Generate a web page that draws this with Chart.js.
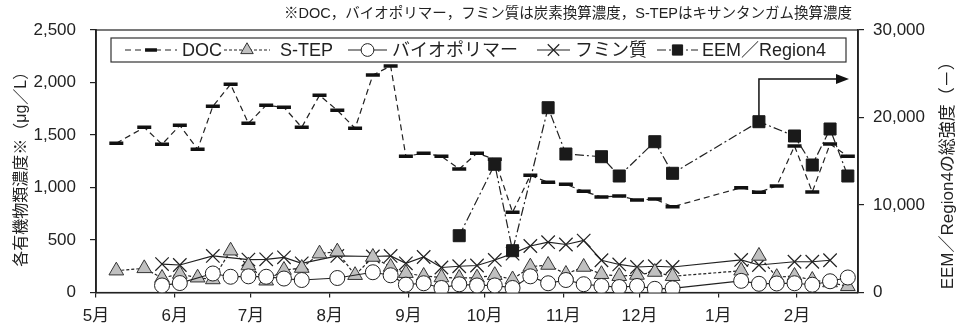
<!DOCTYPE html>
<html>
<head>
<meta charset="utf-8">
<script src="https://cdn.jsdelivr.net/npm/chart.js@4/dist/chart.umd.min.js"></script>
<style>
  html, body { margin: 0; padding: 0; background: #fff; }
  #wrap { width: 959px; height: 329px; }
</style>
</head>
<body>
<div id="wrap"><canvas id="c" width="959" height="329"></canvas></div>
<script>
// Sampling dates (season starts in May, ends the following February)
const sampleDates = ['5/9','5/20','5/27','6/3','6/10','6/16','6/23','6/30','7/7','7/14','7/21','7/28',
  '8/4','8/11','8/18','8/25','8/31','9/7','9/14','9/21','9/28','10/5','10/12','10/19','10/26',
  '11/2','11/9','11/16','11/23','11/30','12/7','12/14','1/10','1/17','1/24','1/31','2/7','2/14','2/21'];

// Concentrations (µg/L)
const docValues = [1421,1573,1411,1592,1364,1773,1983,1611,1783,1764,1573,1878,1735,1564,2071,2157,
  1297,1326,1297,1176,1326,1269,764,1116,1050,1030,964,910,919,881,890,817,998,954,1014,1395,957,1414,1297];
const stepValues = [208,230,138,176,141,124,398,257,112,214,233,370,389,165,338,243,
  184,157,143,138,141,165,124,246,262,176,243,174,155,167,195,155,207,348,146,157,119,95,59];
const biopolymerValues = [null,null,67,90,null,181,150,154,150,133,119,null,138,null,193,164,
  75,88,43,78,67,67,43,154,88,119,79,62,52,62,35,40,111,83,86,88,74,107,143];
const humicValues = [null,null,271,262,null,348,null,314,316,335,278,null,348,null,343,348,
  278,338,238,250,257,310,370,443,479,457,495,307,267,243,250,243,310,262,null,293,293,307,null];
// EEM Region4 total intensity (right axis)
const eemValues = [null,null,null,null,null,null,null,null,null,null,null,null,null,null,null,null,
  null,null,null,6491,null,14651,4777,null,21120,15829,null,15520,13314,null,17234,13623,
  null,19520,null,17886,14571,18686,13314];

// Month ticks on the date axis
const monthTicks = ['5/1','6/1','7/1','8/1','9/1','10/1','11/1','12/1','1/1','2/1'];
const monthLabels = ['5月','6月','7月','8月','9月','10月','11月','12月','1月','2月'];
const leftTicksLabel = '各有機物類濃度※（μg／L）';
const rightTicksLabel = 'EEM／Region4の総強度（－）';
const noteText = '※DOC，バイオポリマー，フミン質は炭素換算濃度，S-TEPはキサンタンガム換算濃度';
const seriesNames = ['DOC', 'S-TEP', 'バイオポリマー', 'フミン質', 'EEM／Region4'];

const FONT = "'Liberation Sans', Arial, 'Noto Sans CJK JP', sans-serif";
const INK = '#222';

// Day count from 1 May for an "M/D" date
const monthStartDay = {5:0, 6:31, 7:61, 8:92, 9:123, 10:153, 11:184, 12:214, 1:245, 2:276, 3:304};
function dayOf(md) {
  const [m, d] = md.split('/').map(Number);
  return monthStartDay[m] + d - 1;
}
function toPoints(values) {
  return sampleDates.map((d, i) => ({ x: dayOf(d), y: values[i] }));
}

const datasets = [
  { label: seriesNames[0], data: toPoints(docValues), yAxisID: 'y', order: 5,
    borderColor: INK, borderWidth: 1.2, borderDash: [6, 4],
    pointStyle: 'line', pointRadius: 7, pointBorderWidth: 3.5,
    pointBorderColor: '#111', pointBackgroundColor: '#111' },
  { label: seriesNames[1], data: toPoints(stepValues), yAxisID: 'y', order: 3,
    borderColor: INK, borderWidth: 1.2, borderDash: [3, 2],
    pointStyle: 'triangle', pointRadius: 8.5, pointBorderWidth: 1,
    pointBorderColor: '#333', pointBackgroundColor: '#c0c0c0' },
  { label: seriesNames[2], data: toPoints(biopolymerValues), yAxisID: 'y', order: 2,
    borderColor: INK, borderWidth: 1.2,
    pointStyle: 'circle', pointRadius: 7.5, pointBorderWidth: 1,
    pointBorderColor: INK, pointBackgroundColor: '#fff' },
  { label: seriesNames[3], data: toPoints(humicValues), yAxisID: 'y', order: 4,
    borderColor: INK, borderWidth: 1.2,
    pointStyle: 'crossRot', pointRadius: 9.5, pointBorderWidth: 1.2,
    pointBorderColor: INK, pointBackgroundColor: INK },
  { label: seriesNames[4], data: toPoints(eemValues), yAxisID: 'y2', order: 1,
    borderColor: INK, borderWidth: 1.2, borderDash: [9, 3, 2, 3],
    pointStyle: 'rect', pointRadius: 8.5, pointBorderWidth: 1,
    pointBorderColor: '#1a1a1a', pointBackgroundColor: '#1a1a1a' }
];
datasets.forEach(ds => { ds.spanGaps = true; ds.tension = 0; ds.fill = false; });

// Legend entries: symbol start/end and text start, measured from the box's left edge
const legendLayout = [
  { s0: 14, s1: 66, t: 71 },
  { s0: 113, s1: 159, t: 169 },
  { s0: 237, s1: 276, t: 281 },
  { s0: 426, s1: 459, t: 464 },
  { s0: 546, s1: 587, t: 591 }
];

const decorations = {
  id: 'decorations',
  beforeDatasetsDraw(chart) {
    const { ctx, chartArea: a } = chart;
    ctx.save();
    ctx.strokeStyle = INK;
    ctx.lineWidth = 1.2;
    ctx.strokeRect(a.left, a.top, a.right - a.left, a.bottom - a.top);
    ctx.restore();
  },
  afterDraw(chart) {
    const { ctx, chartArea: a, scales } = chart;
    ctx.save();

    // note above the plot
    ctx.fillStyle = INK;
    ctx.font = '14.5px ' + FONT;
    ctx.textAlign = 'right';
    ctx.textBaseline = 'middle';
    ctx.fillText(noteText, a.right - 6, 14);

    // axis titles, both reading bottom to top
    ctx.textAlign = 'center';
    const midY = (a.top + a.bottom) / 2;
    ctx.font = '16px ' + FONT;
    ctx.save();
    ctx.translate(22, midY + 4);
    ctx.rotate(-Math.PI / 2);
    ctx.fillText(leftTicksLabel, 0, 0);
    ctx.restore();
    ctx.font = '17px ' + FONT;
    ctx.save();
    ctx.translate(948, midY + 10);
    ctx.rotate(-Math.PI / 2);
    ctx.fillText(rightTicksLabel, 0, 0);
    ctx.restore();

    // arrow from the January EEM point toward the right axis
    const arrowIdx = sampleDates.indexOf('1/17');
    const ax = scales.x.getPixelForValue(dayOf(sampleDates[arrowIdx]));
    const ay0 = scales.y2.getPixelForValue(eemValues[arrowIdx]) - 6;
    const ay1 = scales.y2.getPixelForValue(24400);
    const tipX = a.right - 9;
    ctx.strokeStyle = '#111';
    ctx.fillStyle = '#111';
    ctx.lineWidth = 1.5;
    ctx.setLineDash([]);
    ctx.beginPath();
    ctx.moveTo(ax, ay0);
    ctx.lineTo(ax, ay1);
    ctx.lineTo(tipX - 10, ay1);
    ctx.stroke();
    ctx.beginPath();
    ctx.moveTo(tipX, ay1);
    ctx.lineTo(tipX - 13, ay1 - 5);
    ctx.lineTo(tipX - 13, ay1 + 5);
    ctx.closePath();
    ctx.fill();

    // legend box
    const bx = a.left + 15, by = a.top + 8, bw = a.right - a.left - 27, bh = 24;
    ctx.fillStyle = '#fff';
    ctx.fillRect(bx, by, bw, bh);
    ctx.strokeStyle = '#333';
    ctx.lineWidth = 1.2;
    ctx.strokeRect(bx, by, bw, bh);
    const cy = by + bh / 2;
    ctx.font = '18px ' + FONT;
    ctx.textAlign = 'left';
    ctx.textBaseline = 'middle';
    datasets.forEach((ds, i) => {
      const L = legendLayout[i];
      ctx.strokeStyle = ds.borderColor;
      ctx.lineWidth = ds.borderWidth;
      ctx.setLineDash(ds.borderDash || []);
      ctx.beginPath();
      ctx.moveTo(bx + L.s0, cy);
      ctx.lineTo(bx + L.s1, cy);
      ctx.stroke();
      ctx.setLineDash([]);
      ctx.strokeStyle = ds.pointBorderColor;
      ctx.fillStyle = ds.pointBackgroundColor;
      ctx.lineWidth = ds.pointBorderWidth;
      Chart.helpers.drawPoint(ctx, {
        pointStyle: ds.pointStyle, rotation: 0,
        radius: ds.pointRadius * 0.85, borderWidth: ds.pointBorderWidth
      }, bx + (L.s0 + L.s1) / 2, cy);
      ctx.fillStyle = INK;
      ctx.fillText(ds.label, bx + L.t, cy + 1);
    });
    ctx.restore();
  }
};

const tickFont = { family: FONT, size: 17 };

new Chart(document.getElementById('c'), {
  type: 'line',
  data: { datasets },
  options: {
    responsive: false,
    animation: false,
    events: [],
    layout: { padding: { top: 30, left: 0, right: 0, bottom: 0 } },
    plugins: { legend: { display: false }, tooltip: { enabled: false }, title: { display: false } },
    scales: {
      x: {
        type: 'linear', position: 'bottom', min: 0, max: 300,
        afterBuildTicks: s => { s.ticks = monthTicks.map(m => ({ value: dayOf(m) })); },
        afterFit: s => { s.height = 36.5; },
        ticks: { callback: (v, i) => monthLabels[i], font: tickFont, color: INK,
                 padding: 9, maxRotation: 0, autoSkip: false },
        grid: { drawOnChartArea: false, tickLength: 5, color: INK, lineWidth: 1.2 },
        border: { color: INK, width: 1.5 }
      },
      y: {
        position: 'left', min: 0, max: 2500,
        afterFit: s => { s.width = 96; },
        ticks: { stepSize: 500, callback: v => v.toLocaleString('en-US'), font: tickFont,
                 color: INK, padding: 14 },
        grid: { drawOnChartArea: false, tickLength: 6, color: INK, lineWidth: 1.2 },
        border: { color: INK, width: 1.8 }
      },
      y2: {
        position: 'right', min: 0, max: 30000,
        afterFit: s => { s.width = 101; },
        ticks: { stepSize: 10000, callback: v => v.toLocaleString('en-US'), font: tickFont,
                 color: INK, padding: 9 },
        grid: { drawOnChartArea: false, tickLength: 6, color: INK, lineWidth: 1.2 },
        border: { color: INK, width: 1.8 }
      }
    }
  },
  plugins: [decorations]
});
</script>
</body>
</html>
